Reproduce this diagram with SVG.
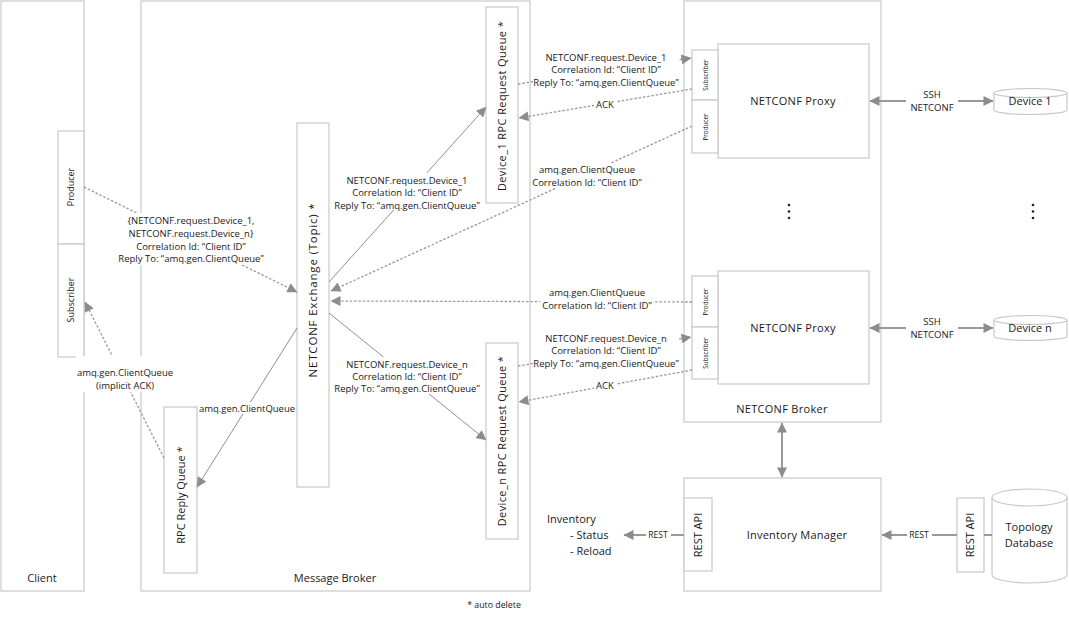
<svg xmlns="http://www.w3.org/2000/svg" width="1069" height="617" viewBox="0 0 1069 617">
<style>
.box{fill:#fff;stroke:#c8c8c8;stroke-width:1.2}
.t{font-family:"Open Sans","Noto Sans","Liberation Sans",sans-serif;fill:#1a1a1a}
.big{font-size:11px}
.lbl{font-size:9.5px;text-anchor:middle}
.sm{font-size:6.3px;text-anchor:middle}
.solid{fill:none;stroke:#8f8f8f;stroke-width:1}
.dash{fill:none;stroke:#999;stroke-width:1.3;stroke-dasharray:2.5,1.8}
.thick{fill:none;stroke:#999;stroke-width:2}
.bg{fill:#fff}
</style>
<defs>
<marker id="ah" viewBox="0 0 10 10" refX="9.5" refY="5" markerWidth="11" markerHeight="10" markerUnits="userSpaceOnUse" orient="auto-start-reverse">
<path d="M0,0 L10,5 L0,10 z" fill="#8c8c8c"/>
</marker>
</defs>
<rect width="1069" height="617" fill="#fff"/>

<g id="client">
<rect class="box" x="1" y="1" width="83" height="590"/>
<text class="t big" x="42" y="582" text-anchor="middle">Client</text>
</g>
<g id="client-producer">
<rect class="box" x="58" y="131" width="26" height="113"/>
<text class="t" font-size="9" text-anchor="middle" transform="translate(74,187) rotate(-90)">Producer</text>
</g>
<g id="client-subscriber">
<rect class="box" x="58" y="244" width="26" height="113"/>
<text class="t" font-size="9" text-anchor="middle" transform="translate(74,300) rotate(-90)">Subscriber</text>
</g>

<g id="message-broker">
<rect class="box" x="141" y="1" width="389" height="590"/>
<text class="t big" x="335" y="582" text-anchor="middle">Message Broker</text>
</g>
<g id="exchange">
<rect class="box" x="297" y="123" width="32" height="364"/>
<text class="t" font-size="11.5" text-anchor="middle" letter-spacing="0.8" transform="translate(317,290) rotate(-90)">NETCONF Exchange (Topic) *</text>
</g>
<g id="device1-queue">
<rect class="box" x="486" y="7" width="32" height="196"/>
<text class="t big" text-anchor="middle" letter-spacing="0.4" transform="translate(506,106) rotate(-90)">Device_1 RPC Request Queue *</text>
</g>
<g id="devicen-queue">
<rect class="box" x="486" y="343" width="32" height="196"/>
<text class="t big" text-anchor="middle" letter-spacing="0.4" transform="translate(506,441) rotate(-90)">Device_n RPC Request Queue *</text>
</g>
<g id="reply-queue">
<rect class="box" x="164" y="407" width="33" height="166"/>
<text class="t big" text-anchor="middle" transform="translate(185,495) rotate(-90)">RPC Reply Queue *</text>
</g>

<g id="netconf-broker">
<rect class="box" x="684" y="1" width="197" height="421"/>
<text class="t big" x="782" y="413" text-anchor="middle" letter-spacing="0.3">NETCONF Broker</text>
</g>
<g id="proxy1">
<rect class="box" x="718" y="44" width="151" height="114"/>
<text class="t big" x="793" y="105" text-anchor="middle" letter-spacing="0.3">NETCONF Proxy</text>
<rect class="box" x="692" y="50" width="26" height="50"/>
<text class="t sm" transform="translate(707.5,75) rotate(-90)">Subscriber</text>
<rect class="box" x="692" y="100" width="26" height="53"/>
<text class="t sm" transform="translate(707.5,127) rotate(-90)">Producer</text>
</g>
<g id="proxyn">
<rect class="box" x="718" y="271" width="151" height="113"/>
<text class="t big" x="793" y="332" text-anchor="middle" letter-spacing="0.3">NETCONF Proxy</text>
<rect class="box" x="692" y="276" width="26" height="51"/>
<text class="t sm" transform="translate(707.5,302) rotate(-90)">Producer</text>
<rect class="box" x="692" y="327" width="26" height="52"/>
<text class="t sm" transform="translate(707.5,353) rotate(-90)">Subscriber</text>
</g>
<g id="ellipsis-broker" fill="#222">
<circle cx="789" cy="205" r="1.3"/><circle cx="789" cy="211.5" r="1.3"/><circle cx="789" cy="218" r="1.3"/>
</g>
<g id="ellipsis-devices" fill="#222">
<circle cx="1033" cy="205" r="1.3"/><circle cx="1033" cy="211.5" r="1.3"/><circle cx="1033" cy="218" r="1.3"/>
</g>
<g id="device1">
<path class="box" d="M994,93 a36.5,4.5 0 0,1 73,0 v17 a36.5,4.5 0 0,1 -73,0 z"/>
<path class="box" d="M994,93 a36.5,4.5 0 0,0 73,0"/>
<text class="t big" x="1030" y="105" text-anchor="middle">Device 1</text>
</g>
<g id="devicen">
<path class="box" d="M994,320 a36.5,4.5 0 0,1 73,0 v16 a36.5,4.5 0 0,1 -73,0 z"/>
<path class="box" d="M994,320 a36.5,4.5 0 0,0 73,0"/>
<text class="t big" x="1030" y="332" text-anchor="middle">Device n</text>
</g>

<g id="inventory-manager">
<rect class="box" x="684" y="478" width="197" height="113"/>
<text class="t big" x="797" y="539" text-anchor="middle" letter-spacing="0.2">Inventory Manager</text>
<rect class="box" x="684" y="498" width="28" height="73"/>
<text class="t big" text-anchor="middle" transform="translate(702,535) rotate(-90)">REST API</text>
</g>
<g id="inventory-text">
<text class="t big" x="547" y="523">Inventory</text>
<text class="t big" x="570" y="539">- Status</text>
<text class="t big" x="570" y="555">- Reload</text>
</g>
<g id="topology-db">
<rect class="box" x="957" y="498" width="27" height="74"/>
<text class="t big" text-anchor="middle" transform="translate(974,535) rotate(-90)">REST API</text>
<path class="box" d="M992,497.5 a37.5,8.5 0 0,1 75,0 v77 a37.5,8.5 0 0,1 -75,0 z"/>
<path class="box" d="M992,497.5 a37.5,8.5 0 0,0 75,0"/>
<text class="t big" x="1029" y="531" text-anchor="middle">Topology</text>
<text class="t big" x="1029" y="547" text-anchor="middle">Database</text>
</g>
<g id="footnote">
<text class="t" font-size="8.8" x="494" y="608" text-anchor="middle">* auto delete</text>
</g>

<g id="connectors">
<line class="dash" x1="84" y1="187" x2="297" y2="292" marker-end="url(#ah)"/>
<line class="dash" x1="164" y1="458" x2="85" y2="302" marker-end="url(#ah)"/>
<line class="solid" x1="297" y1="328" x2="197" y2="487" marker-end="url(#ah)"/>
<line class="solid" x1="329" y1="282" x2="486" y2="107" marker-end="url(#ah)"/>
<line class="solid" x1="329" y1="313" x2="486" y2="440" marker-end="url(#ah)"/>
<line class="dash" x1="518" y1="84" x2="691" y2="58" marker-end="url(#ah)"/>
<line class="dash" x1="692" y1="89" x2="519" y2="118" marker-end="url(#ah)"/>
<line class="dash" x1="692" y1="126" x2="331" y2="291" marker-end="url(#ah)"/>
<line class="dash" x1="692" y1="302" x2="331" y2="301" marker-end="url(#ah)"/>
<line class="dash" x1="518" y1="366" x2="691" y2="337" marker-end="url(#ah)"/>
<line class="dash" x1="692" y1="370" x2="519" y2="402" marker-end="url(#ah)"/>
<line class="thick" x1="870" y1="101" x2="993" y2="101" marker-start="url(#ah)" marker-end="url(#ah)"/>
<line class="thick" x1="870" y1="328" x2="993" y2="328" marker-start="url(#ah)" marker-end="url(#ah)"/>
<line class="thick" x1="782" y1="423" x2="782" y2="477" marker-start="url(#ah)" marker-end="url(#ah)"/>
<line class="thick" x1="684" y1="535" x2="624" y2="535" marker-end="url(#ah)"/>
<line class="thick" x1="957" y1="535" x2="882" y2="535" marker-end="url(#ah)"/>
<line class="thick" x1="984" y1="535" x2="992" y2="535"/>
</g>

<g id="labels">
<rect class="bg" x="118" y="213" width="146" height="52"/>
<text class="t lbl" x="191" y="224">{NETCONF.request.Device_1,</text>
<text class="t lbl" x="191" y="237">NETCONF.request.Device_n}</text>
<text class="t lbl" x="191" y="250">Correlation Id: “Client ID”</text>
<text class="t lbl" x="191" y="262">Reply To: “amq.gen.ClientQueue”</text>

<rect class="bg" x="76" y="356" width="98" height="36"/>
<text class="t lbl" x="125" y="376">amq.gen.ClientQueue</text>
<text class="t lbl" x="125" y="389">(implicit ACK)</text>

<rect class="bg" x="199" y="402" width="96" height="12"/>
<text class="t lbl" x="247" y="412">amq.gen.ClientQueue</text>

<rect class="bg" x="334" y="173" width="146" height="37"/>
<text class="t lbl" x="407" y="184">NETCONF.request.Device_1</text>
<text class="t lbl" x="407" y="196">Correlation Id: “Client ID”</text>
<text class="t lbl" x="407" y="209">Reply To: “amq.gen.ClientQueue”</text>

<rect class="bg" x="334" y="357" width="146" height="37"/>
<text class="t lbl" x="407" y="368">NETCONF.request.Device_n</text>
<text class="t lbl" x="407" y="380">Correlation Id: “Client ID”</text>
<text class="t lbl" x="407" y="392">Reply To: “amq.gen.ClientQueue”</text>

<rect class="bg" x="533" y="51" width="146" height="37"/>
<text class="t lbl" x="606" y="61">NETCONF.request.Device_1</text>
<text class="t lbl" x="606" y="73">Correlation Id: “Client ID”</text>
<text class="t lbl" x="606" y="86">Reply To: “amq.gen.ClientQueue”</text>

<rect class="bg" x="594" y="99" width="22" height="11"/>
<text class="t lbl" x="605" y="108">ACK</text>

<rect class="bg" x="531" y="163" width="112" height="25"/>
<text class="t lbl" x="587" y="173">amq.gen.ClientQueue</text>
<text class="t lbl" x="587" y="186">Correlation Id: “Client ID”</text>

<rect class="bg" x="540" y="286" width="114" height="24"/>
<text class="t lbl" x="597" y="296">amq.gen.ClientQueue</text>
<text class="t lbl" x="597" y="309">Correlation Id: “Client ID”</text>

<rect class="bg" x="533" y="332" width="146" height="36"/>
<text class="t lbl" x="606" y="342">NETCONF.request.Device_n</text>
<text class="t lbl" x="606" y="354">Correlation Id: “Client ID”</text>
<text class="t lbl" x="606" y="367">Reply To: “amq.gen.ClientQueue”</text>

<rect class="bg" x="594" y="380" width="22" height="11"/>
<text class="t lbl" x="605" y="389">ACK</text>

<rect class="bg" x="906" y="88" width="52" height="25"/>
<text class="t lbl" x="932" y="98">SSH</text>
<text class="t lbl" x="932" y="111">NETCONF</text>
<rect class="bg" x="906" y="315" width="52" height="25"/>
<text class="t lbl" x="932" y="325">SSH</text>
<text class="t lbl" x="932" y="338">NETCONF</text>

<rect class="bg" x="646" y="530" width="25" height="10"/>
<text class="t" font-size="8.6" x="658" y="538" text-anchor="middle">REST</text>
<rect class="bg" x="907" y="530" width="25" height="10"/>
<text class="t" font-size="8.6" x="919" y="538" text-anchor="middle">REST</text>
</g>
</svg>
